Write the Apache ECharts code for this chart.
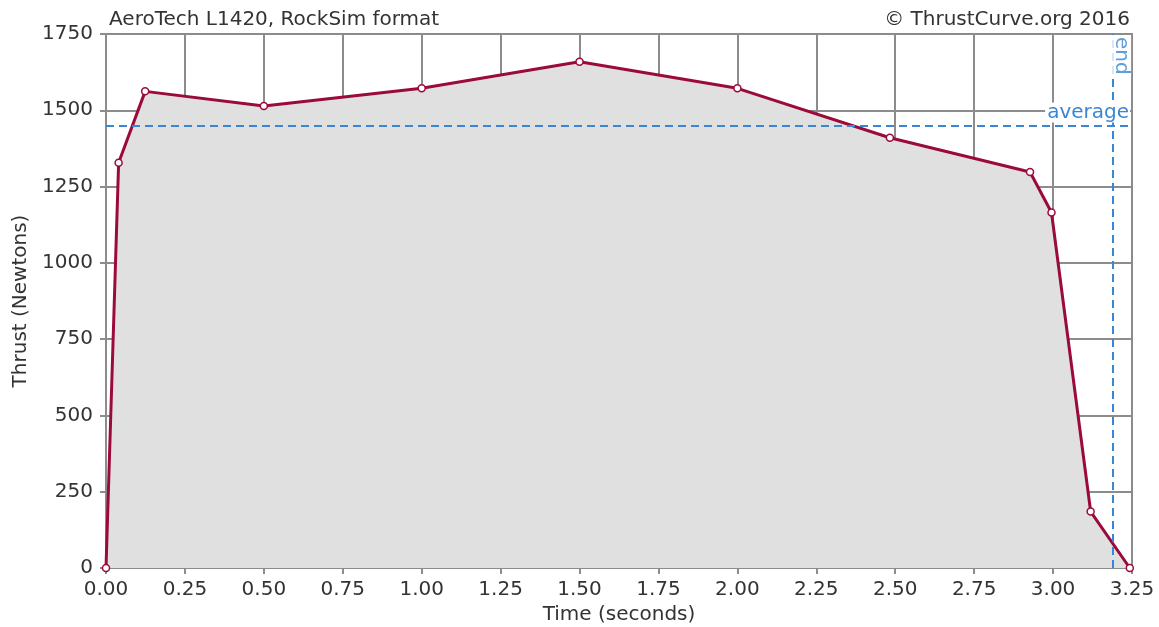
<!DOCTYPE html>
<html>
<head>
<meta charset="utf-8">
<script src="https://cdn.jsdelivr.net/npm/echarts@6/dist/echarts.min.js"></script>
<style>
html,body{margin:0;padding:0;background:#fff;}
#chart{width:1159px;height:627px;}
</style>
</head>
<body>
<div id="chart"></div>
<script>
const times  = [0.000, 0.040, 0.124, 0.500, 1.000, 1.500, 2.000, 2.483, 2.927, 2.995, 3.119, 3.243];
const thrust = [0, 1328, 1562, 1514, 1572, 1659, 1572, 1410, 1298, 1165, 185, 0];
const averageThrust = 1450;
const burnEnd = 3.187;
const titleLeft = 'AeroTech L1420, RockSim format';
const titleRight = '© ThrustCurve.org 2016';
const xName = 'Time (seconds)';
const yName = 'Thrust (Newtons)';

const FONT = 'DejaVu Sans';
const FS = 20;
const TXT = '#333333';
const GRID = '#8c8c8c';
const LINE = '#9b0a3c';
const BLUE = '#3a86d6';

const chart = echarts.init(document.getElementById('chart'));
chart.setOption({
  animation: false,
  backgroundColor: '#fff',
  textStyle: {fontFamily: FONT},
  title: [
    {text: titleLeft, left: 104, top: 5, textStyle: {fontFamily: FONT, fontSize: FS, fontWeight: 'normal', color: TXT}},
    {text: titleRight, right: 24, top: 5, textStyle: {fontFamily: FONT, fontSize: FS, fontWeight: 'normal', color: TXT}}
  ],
  grid: {left: 106, right: 27, top: 34, bottom: 59, containLabel: false, outerBoundsMode: 'none',
    show: true, borderColor: GRID, borderWidth: 2, backgroundColor: '#fff'},
  xAxis: {
    type: 'value', min: 0, max: 3.25, interval: 0.25,
    name: xName, nameLocation: 'middle', nameGap: 37,
    nameTextStyle: {fontFamily: FONT, fontSize: FS, color: TXT},
    axisLine: {show: true, lineStyle: {color: GRID, width: 2}},
    axisTick: {show: true, length: 6, lineStyle: {color: GRID, width: 2}},
    axisLabel: {fontFamily: FONT, fontSize: FS, color: TXT, margin: 12, formatter: v => v.toFixed(2)},
    splitLine: {show: true, lineStyle: {color: GRID, width: 2}}
  },
  yAxis: {
    type: 'value', min: 0, max: 1750, interval: 250,
    name: yName, nameLocation: 'middle', nameGap: 75,
    nameTextStyle: {fontFamily: FONT, fontSize: FS, color: TXT},
    axisLine: {show: true, lineStyle: {color: GRID, width: 2}},
    axisTick: {show: true, length: 6, lineStyle: {color: GRID, width: 2}},
    axisLabel: {fontFamily: FONT, fontSize: FS, color: TXT, margin: 13, formatter: v => String(v)},
    splitLine: {show: true, lineStyle: {color: GRID, width: 2}}
  },
  series: [
    {
      type: 'line',
      data: times.map((t, i) => [t, thrust[i]]),
      symbol: 'circle', symbolSize: 7,
      itemStyle: {color: '#fff', borderColor: LINE, borderWidth: 1.5},
      lineStyle: {color: LINE, width: 3},
      areaStyle: {color: '#e0e0e0', opacity: 1},
      z: 3,
      markLine: {
        silent: true, symbol: 'none', animation: false,
        lineStyle: {color: BLUE, type: [8, 5], width: 2},
        data: [
          {yAxis: averageThrust, label: {show: true, position: 'insideEndTop', formatter: 'average', color: BLUE, fontFamily: FONT, fontSize: FS, backgroundColor: '#fff', padding: [0, 1, 0, 2], distance: [2, 3]}},
          {xAxis: burnEnd, label: {show: false}}
        ]
      }
    },
    {
      type: 'scatter',
      data: [[burnEnd, 1750]],
      symbolSize: 0,
      silent: true,
      z: 5,
      label: {show: true, formatter: 'end', rotate: -90, position: 'inside', distance: 0, offset: [2, 1],
        align: 'left', verticalAlign: 'bottom', color: BLUE, fontFamily: FONT, fontSize: FS, backgroundColor: '#fff', padding: [0, 1, 0, 1]}
    }
  ]
});
</script>
</body>
</html>
